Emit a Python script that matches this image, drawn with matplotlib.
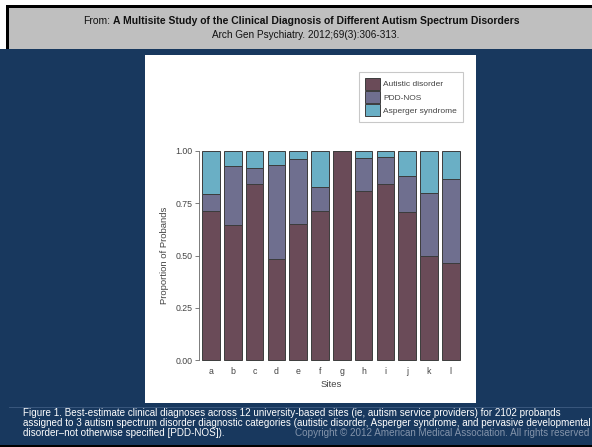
import matplotlib
matplotlib.use("Agg")
import matplotlib.pyplot as plt
import matplotlib.patches as patches
import numpy as np

# data
sites = ["a", "b", "c", "d", "e", "f", "g", "h", "i", "j", "k", "l"]
autistic = [0.713, 0.646, 0.840, 0.482, 0.651, 0.715, 1.000, 0.810, 0.840, 0.708, 0.500, 0.466]
pdd_nos = [0.080, 0.282, 0.080, 0.451, 0.311, 0.111, 0.000, 0.155, 0.131, 0.172, 0.297, 0.398]
asperger = [0.207, 0.072, 0.080, 0.067, 0.038, 0.174, 0.000, 0.035, 0.029, 0.120, 0.203, 0.136]
series_names = ["Autistic disorder", "PDD-NOS", "Asperger syndrome"]
series_colors = ["#6a4b58", "#6f6f8f", "#6aafc5"]

yticks = [0.00, 0.25, 0.50, 0.75, 1.00]

title_from = "From:"
title_bold = "A Multisite Study of the Clinical Diagnosis of Different Autism Spectrum Disorders"
citation = "Arch Gen Psychiatry. 2012;69(3):306-313."
caption_lines = [
    "Figure 1. Best-estimate clinical diagnoses across 12 university-based sites (ie, autism service providers) for 2102 probands",
    "assigned to 3 autism spectrum disorder diagnostic categories (autistic disorder, Asperger syndrome, and pervasive developmental",
    "disorder\u2013not otherwise specified [PDD-NOS]).",
]
copyright_text = "Copyright \u00a9 2012 American Medical Association. All rights reserved"

W, H = 592, 447
NAVY = "#18385e"
HEAD = "#bfbfbf"


def fx(px):
    return px / W


def fy(py):
    return 1 - py / H


def rect(x0, y0, x1, y1, color):
    fig.patches.append(patches.Rectangle((fx(x0), fy(y1)), fx(x1) - fx(x0), (y1 - y0) / H,
                                         transform=fig.transFigure, facecolor=color,
                                         edgecolor="none", zorder=-5))


fig = plt.figure(figsize=(W / 100, H / 100), dpi=100)
fig.patch.set_facecolor(NAVY)

# slide frame
rect(0, 0, W, 49, "white")
rect(6, 5, W, 49, "black")
rect(9, 8, W, 49, HEAD)
rect(0, 445, W, H, "black")
rect(145, 55, 476, 403, "white")
fig.lines.append(plt.Line2D([fx(9), fx(W)], [fy(406.5), fy(406.5)], transform=fig.transFigure,
                            color="#3f5d82", lw=0.6, zorder=-4))

sans = ["Liberation Sans", "DejaVu Sans"]
narrow = ["Liberation Sans Narrow", "Liberation Sans", "DejaVu Sans"]

# header
fig.text(fx(110.5), fy(21), title_from, ha="right", va="center", fontsize=7.5, family=sans, color="#111111")
fig.text(fx(113), fy(21), title_bold, ha="left", va="center", fontsize=7.5, family=sans,
         fontweight="bold", color="#111111")
fig.text(fx(306), fy(35), citation, ha="center", va="center", fontsize=7.2, family=sans, color="#111111")

# caption
for i, line in enumerate(caption_lines):
    fig.text(fx(23), fy(412.5 + 10.3 * i), line, ha="left", va="center", fontsize=7.1,
             family=sans, color="white")
fig.text(fx(589), fy(433.1), copyright_text, ha="right", va="center", fontsize=7.1,
         family=sans, color="#8494ab")

# chart
ax = fig.add_axes([fx(199), fy(360), fx(462.7) - fx(199), (360 - 151) / H])
ax.set_zorder(2)
ax.set_facecolor("white")
x = np.arange(len(sites))
bottom = np.zeros(len(sites))
handles = []
for vals, name, col in zip([autistic, pdd_nos, asperger], series_names, series_colors):
    b = ax.bar(x, vals, 0.81, bottom=bottom, color=col, edgecolor="#3c3c3c", linewidth=0.7,
               label=name, clip_on=False)
    handles.append(b)
    bottom = bottom + np.array(vals)

ax.set_xlim(-0.55, 11.55)
ax.set_ylim(0, 1)
ax.set_xticks(x)
ax.set_xticklabels(sites)
ax.set_yticks(yticks)
ax.set_yticklabels(["%.2f" % v for v in yticks])
for s in ["top", "right", "bottom"]:
    ax.spines[s].set_visible(False)
ax.spines["left"].set_color("#666666")
ax.spines["left"].set_linewidth(0.6)
ax.tick_params(axis="x", length=0, pad=5, labelsize=6.3, labelcolor="#444444")
ax.tick_params(axis="y", length=3, width=0.6, color="#666666", pad=1.5, labelsize=6.3,
               labelcolor="#444444")
for lab in ax.get_xticklabels() + ax.get_yticklabels():
    lab.set_family(narrow)
ax.set_xlabel("Sites", fontsize=6.8, family=narrow, color="#444444", labelpad=3)
ax.set_ylabel("Proportion of Probands", fontsize=6.8, family=narrow, color="#444444", labelpad=5)

leg = fig.legend(handles=handles, labels=series_names, loc="upper left",
                 bbox_to_anchor=(fx(359), fy(72)), frameon=True, fancybox=False,
                 prop={"family": narrow, "size": 6.0}, handlelength=1.8, handleheight=1.8,
                 labelspacing=0.18, borderpad=0.7, handletextpad=0.4, borderaxespad=0)
leg.get_frame().set_edgecolor("#bbbbbb")
leg.get_frame().set_linewidth(0.8)
leg.set_zorder(3)
for t in leg.get_texts():
    t.set_color("#444444")

fig.savefig("out.png", dpi=100, facecolor=fig.get_facecolor())
